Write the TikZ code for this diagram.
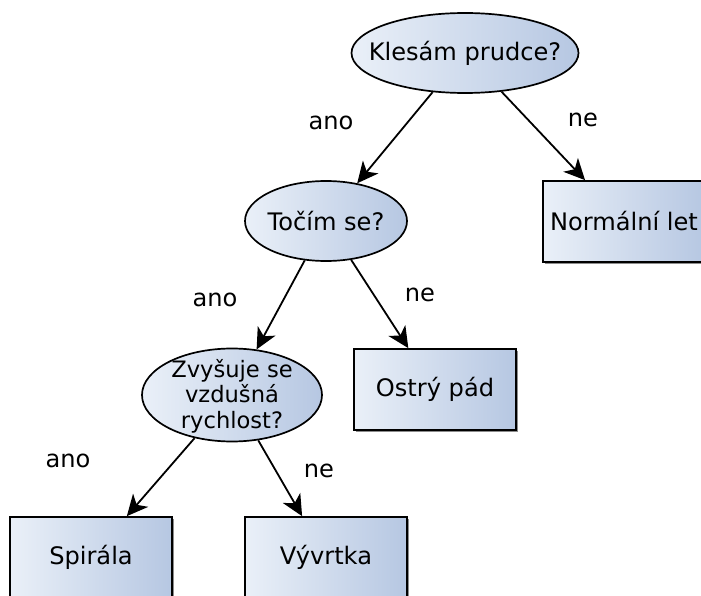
\documentclass[tikz,border=0pt]{standalone}
\usepackage{fontspec}
\setmainfont{DejaVu Sans}
\usetikzlibrary{arrows.meta,shapes.geometric,shadows}
\definecolor{gl}{HTML}{EAF0F8}
\definecolor{gr}{HTML}{B6C7E2}
\begin{document}
\begin{tikzpicture}[x=1pt,y=-1pt,
  font=\fontsize{24.1}{26}\selectfont,
  q/.style={ellipse, draw, line width=1.7pt, left color=gl, right color=gr, inner sep=0pt},
  ans/.style={rectangle, draw, line width=1.7pt, left color=gl, right color=gr,
    minimum width=162pt, minimum height=81pt, inner sep=0pt,
    drop shadow={shadow xshift=1.6pt, shadow yshift=-1.6pt, fill=black!45, opacity=1}},
  txt/.style={inner sep=0pt, align=center},
  arr/.style={-{Stealth[length=21pt,width=20pt,inset=6pt]}, line width=1.8pt},
  lab/.style={inner sep=0pt}]
\useasboundingbox (0,0) rectangle (701,596);
% questions
\node[q, minimum width=227pt, minimum height=80pt] (k) at (465,53) {};
\node[txt] (kt) at (k) {Klesám prudce?};
\node[q, minimum width=162pt, minimum height=80pt] (t) at (326,221) {};
\node[txt] (tt) at (t) {Točím se?};
\node[q, minimum width=180pt, minimum height=93pt] (z) at (232,395) {};
\node[txt, font=\fontsize{22.6}{25.5}\selectfont] (zt) at (232,396) {Zvyšuje se\\vzdušná\\rychlost?};
% answers
\node[ans] (n) at (624,221.5) {Normální let};
\node[ans] (o) at (435,389.5) {Ostrý pád};
\node[ans] (s) at (91,557.5) {Spirála};
\node[ans] (v) at (326,557.5) {Vývrtka};
% arrows
\draw[arr] (k) -- (t);
\draw[arr] (k) -- (n);
\draw[arr] (t) -- (z);
\draw[arr] (t) -- (o);
\draw[arr] (z) -- (s);
\draw[arr] (z) -- (v);
% labels
\node[lab] (l1) at (331,122.5) {ano};
\node[lab] (l2) at (583,119.5) {ne};
\node[lab] (l3) at (215,299.5) {ano};
\node[lab] (l4) at (420,294.5) {ne};
\node[lab] (l5) at (68,460.5) {ano};
\node[lab] (l6) at (319,470.5) {ne};
\end{tikzpicture}
\end{document}
